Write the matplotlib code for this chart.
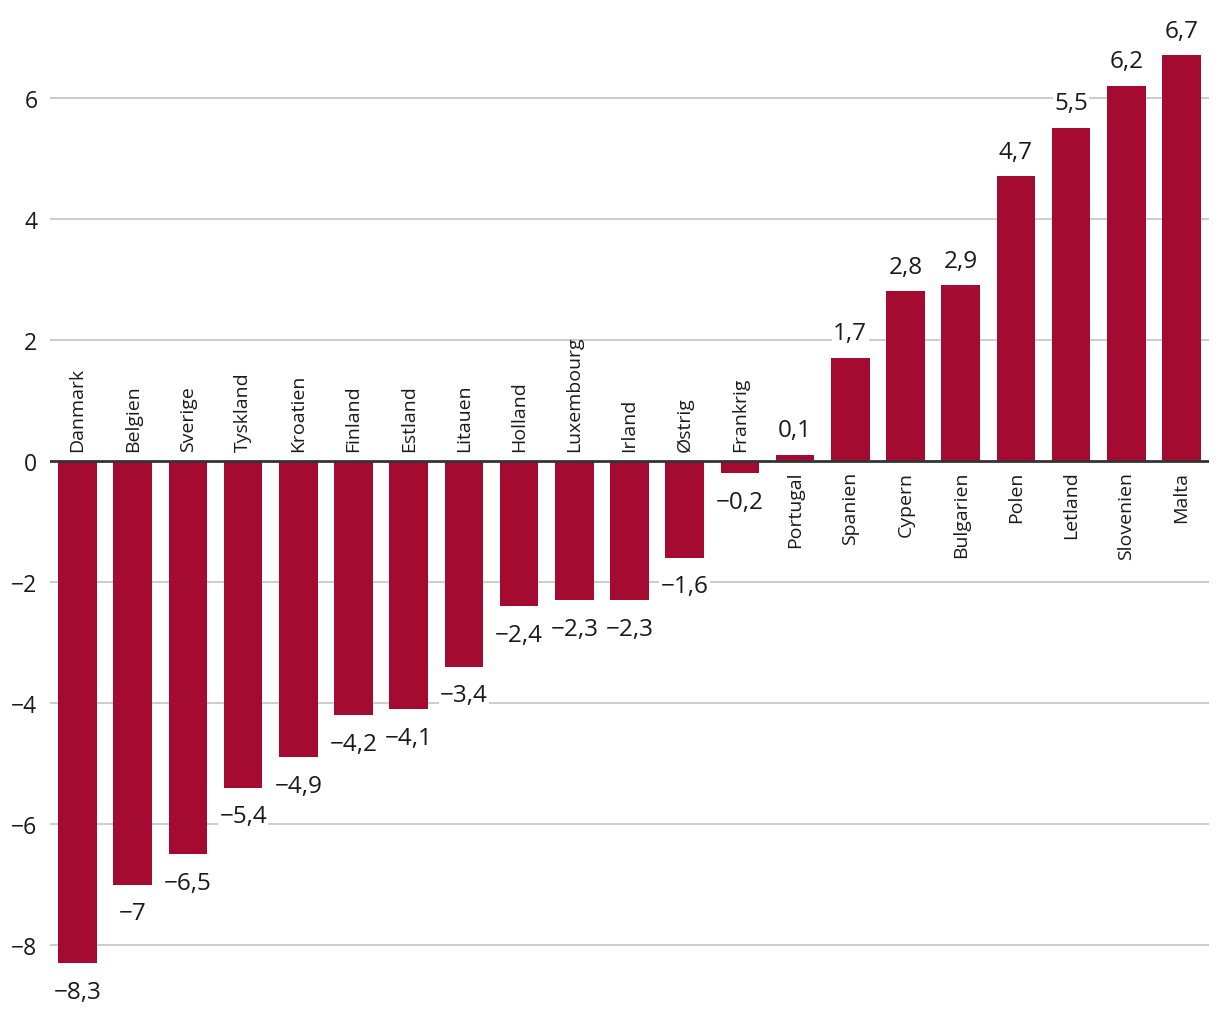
import matplotlib
matplotlib.use('Agg')
import matplotlib.pyplot as plt

lande = ['Danmark', 'Belgien', 'Sverige', 'Tyskland', 'Kroatien', 'Finland',
         'Estland', 'Litauen', 'Holland', 'Luxembourg', 'Irland', 'Østrig',
         'Frankrig', 'Portugal', 'Spanien', 'Cypern', 'Bulgarien', 'Polen',
         'Letland', 'Slovenien', 'Malta']
vaerdier = [-8.3, -7.0, -6.5, -5.4, -4.9, -4.2, -4.1, -3.4, -2.4, -2.3, -2.3,
            -1.6, -0.2, 0.1, 1.7, 2.8, 2.9, 4.7, 5.5, 6.2, 6.7]
yticks = [-8, -6, -4, -2, 0, 2, 4, 6]

farve = '#a50b30'

plt.rcParams['font.family'] = ['Open Sans', 'DejaVu Sans']

fig = plt.figure(figsize=(12.2, 10.2), dpi=100)
ax = fig.add_axes([50 / 1220, 0, 1159 / 1220, 1])

x = list(range(len(lande)))
ax.bar(x, vaerdier, width=0.7, color=farve, zorder=3)

ax.set_xlim(-0.5, len(lande) - 0.5)
ax.set_ylim(-9.22, 7.63)

for v in yticks:
    if v == 0:
        ax.axhline(0, color='#333333', lw=2, zorder=4)
    else:
        ax.axhline(v, color='#c4c4c4', lw=1.2, zorder=1)

ax.set_yticks(yticks)
ax.set_yticklabels([str(v).replace('-', '\u2212') for v in yticks], fontsize=16.5)
ax.tick_params(axis='y', length=0, pad=9, colors='#1a1a1a')
ax.set_xticks([])
for s in ax.spines.values():
    s.set_visible(False)

def fmt(v):
    s = f'{v:.0f}' if v == int(v) else f'{v:.1f}'
    return s.replace('.', ',').replace('-', '\u2212')

for xi, v, navn in zip(x, vaerdier, lande):
    if v >= 0:
        ax.annotate(fmt(v), (xi, v), xytext=(0, 9), textcoords='offset points',
                    ha='center', va='bottom', fontsize=17.5, color='#1a1a1a',
                    bbox=dict(facecolor='white', edgecolor='none', pad=1), zorder=5)
        ax.annotate(navn, (xi, 0), xytext=(0, -7), textcoords='offset points',
                    ha='center', va='top', rotation=90, fontsize=14,
                    color='#1a1a1a', zorder=5)
    else:
        ax.annotate(fmt(v), (xi, v), xytext=(0, -12), textcoords='offset points',
                    ha='center', va='top', fontsize=17.5, color='#1a1a1a',
                    bbox=dict(facecolor='white', edgecolor='none', pad=1), zorder=5)
        ax.annotate(navn, (xi, 0), xytext=(0, 7), textcoords='offset points',
                    ha='center', va='bottom', rotation=90, fontsize=14,
                    color='#1a1a1a', zorder=5)

plt.savefig('out.png', dpi=100)
plt.close()
